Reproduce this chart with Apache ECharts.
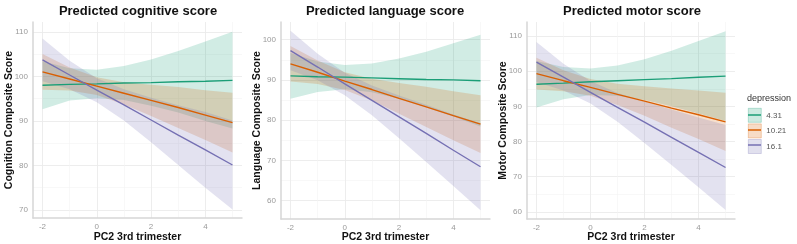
<!DOCTYPE html>
<html lang="en">
<head>
    <meta charset="UTF-8">
    <title>Predicted scores</title>
    <script src="https://cdn.jsdelivr.net/npm/echarts@6/dist/echarts.min.js"></script>
    <style>
        html, body { margin: 0; padding: 0; background: #fff; }
    </style>
</head>
<body>
<div id="main" style="width: 797px; height: 244px;"></div>
<script type="text/javascript">
    // x values (PC2 3rd trimester) at which the fits were read
    var xs = [-2, -1, 0, 1, 2, 3, 4, 5];
    var levels = ['4.31', '10.21', '16.1'];
    var colors = ['#1b9e77', '#d95f02', '#7570b3'];

    // cognitive: fitted line, lower and upper band, one row per depression level
    var cogFit = [
        [98.0, 98.2, 98.3, 98.5, 98.6, 98.8, 98.9, 99.1],
        [101.0, 99.4, 97.8, 96.2, 94.6, 93.0, 91.3, 89.6],
        [103.7, 100.3, 96.9, 93.6, 90.2, 86.8, 83.5, 80.1]
    ];
    var cogLow = [
        [92.6, 94.6, 95.1, 94.7, 93.4, 91.9, 90.0, 88.3],
        [97.0, 96.8, 95.8, 93.7, 91.1, 88.4, 85.7, 82.9],
        [98.9, 97.1, 94.2, 90.1, 85.2, 80.1, 75.0, 70.1]
    ];
    var cogHigh = [
        [103.4, 101.8, 101.5, 102.3, 103.8, 105.7, 107.8, 110.0],
        [105.0, 102.0, 99.8, 98.7, 98.1, 97.6, 96.9, 96.3],
        [108.5, 103.5, 99.6, 97.1, 95.2, 93.5, 92.0, 90.1]
    ];

    // language
    var langFit = [
        [91.0, 90.8, 90.7, 90.5, 90.3, 90.1, 90.0, 89.8],
        [94.0, 91.9, 89.7, 87.6, 85.4, 83.3, 81.1, 79.0],
        [97.3, 93.2, 89.0, 84.9, 80.8, 76.7, 72.5, 68.4]
    ];
    var langLow = [
        [85.3, 87.0, 87.7, 86.9, 85.3, 83.2, 80.9, 78.4],
        [89.6, 89.0, 87.5, 84.9, 81.6, 78.3, 75.0, 71.8],
        [92.4, 89.9, 86.2, 81.2, 75.5, 69.6, 63.6, 57.6]
    ];
    var langHigh = [
        [96.7, 94.6, 93.7, 94.1, 95.3, 97.0, 99.1, 101.2],
        [98.4, 94.8, 91.9, 90.3, 89.2, 88.3, 87.2, 86.2],
        [102.2, 96.5, 91.8, 88.6, 86.1, 83.8, 81.4, 79.2]
    ];

    // motor
    var motorFit = [
        [96.3, 96.6, 97.0, 97.3, 97.6, 97.9, 98.3, 98.6],
        [99.3, 97.3, 95.4, 93.4, 91.5, 89.5, 87.6, 85.6],
        [102.6, 98.3, 94.0, 89.7, 85.5, 81.2, 76.9, 72.6]
    ];
    var motorLow = [
        [89.7, 92.0, 93.2, 93.0, 91.8, 90.0, 88.0, 85.8],
        [94.8, 94.3, 93.0, 90.4, 87.3, 83.9, 80.7, 77.3],
        [96.9, 94.5, 90.8, 85.6, 79.6, 73.3, 67.0, 60.5]
    ];
    var motorHigh = [
        [102.9, 101.2, 100.8, 101.6, 103.4, 105.8, 108.6, 111.4],
        [103.8, 100.3, 97.8, 96.4, 95.7, 95.1, 94.5, 93.9],
        [108.3, 102.1, 97.2, 93.8, 91.4, 89.1, 86.8, 84.7]
    ];

    var panelTitles = ['Predicted cognitive score', 'Predicted language score', 'Predicted motor score'];
    var yNames = ['Cognition Composite Score', 'Language Composite Score', 'Motor Composite Score'];
    var xName = 'PC2 3rd trimester';
    var yMins = [68.2, 55.4, 57.95];
    var yMaxs = [112.2, 104.4, 114.0];
    var xMin = -2.35, xMax = 5.35;
    var minorX = [-1, 1, 3, 5];
    var minorY = [[75, 85, 95, 105], [65, 75, 85, 95], [65, 75, 85, 95, 105]];

    var fits = [cogFit, langFit, motorFit];
    var lows = [cogLow, langLow, motorLow];
    var highs = [cogHigh, langHigh, motorHigh];

    var gridLefts = [33, 281, 527];
    var gridWidths = [209, 209, 208];
    var titleCenters = [138, 385, 632];

    var FONT = '"Liberation Sans", Arial, sans-serif';

    function hexA(hex, a) {
        var r = parseInt(hex.substr(1, 2), 16), g = parseInt(hex.substr(3, 2), 16), b = parseInt(hex.substr(5, 2), 16);
        return 'rgba(' + r + ',' + g + ',' + b + ',' + a + ')';
    }

    var myChart = echarts.init(document.getElementById('main'), null, {renderer: 'canvas'});

    var grids = [], xAxes = [], yAxes = [], series = [], titles = [];

    for (var p = 0; p < 3; p++) {
        grids.push({left: gridLefts[p], top: 22, width: gridWidths[p], height: 196 + (p > 0 ? 1 : 0),
            containLabel: false, outerBoundsMode: 'none'});
        titles.push({
            text: panelTitles[p], left: titleCenters[p], top: 5, padding: 0, textAlign: 'center',
            backgroundColor: 'rgba(0,0,0,0)',
            textStyle: {fontFamily: FONT, fontSize: 13, fontWeight: 'bold', color: '#111'}
        });
        // x axis title as a text block under the panel
        titles.push({
            text: xName, left: gridLefts[p] + gridWidths[p] / 2, top: 232, padding: 0, textAlign: 'center',
            backgroundColor: 'rgba(0,0,0,0)', z: 0,
            textStyle: {fontFamily: FONT, fontSize: 10.5, fontWeight: 'bold', color: '#111'}
        });
        xAxes.push({
            type: 'value', gridIndex: p, min: xMin, max: xMax, z: 1,
            axisLine: {show: true, onZero: false, lineStyle: {color: '#d6d6d6', width: 1.5}},
            axisTick: {show: false},
            axisLabel: {
                fontFamily: FONT, fontSize: 8, color: '#9a9a9a', margin: 5,
                formatter: function (v) { return (Math.abs(v % 2) < 1e-9) ? String(v) : ''; }
            },
            splitLine: {show: true, showMinLine: false, showMaxLine: false, lineStyle: {color: '#ebebeb', width: 0.9}}
        });
        yAxes.push({
            type: 'value', gridIndex: p, min: yMins[p], max: yMaxs[p],
            name: yNames[p], nameLocation: 'middle', nameGap: 18, nameMoveOverlap: false,
            nameTextStyle: {fontFamily: FONT, fontSize: 10.5, fontWeight: 'bold', color: '#111'},
            axisLine: {show: true, onZero: false, lineStyle: {color: '#d6d6d6', width: 1.5}},
            axisTick: {show: false},
            axisLabel: {
                fontFamily: FONT, fontSize: 8, color: '#9a9a9a', margin: 5,
                formatter: function (v) { return (Math.abs(v % 10) < 1e-9) ? String(v) : ''; }
            },
            splitLine: {show: true, showMinLine: false, showMaxLine: false, lineStyle: {color: '#ebebeb', width: 0.9}}
        });

        // ribbons first
        for (var k = 0; k < 3; k++) {
            (function (p, k) {
                var lo = lows[p][k], hi = highs[p][k];
                series.push({
                    type: 'custom', name: levels[k], xAxisIndex: p, yAxisIndex: p, z: 2, silent: true,
                    data: xs.map(function (x, i) { return [x, lo[i], hi[i]]; }),
                    encode: {x: 0, y: [1, 2]},
                    renderItem: function (params, api) {
                        if (params.dataIndex !== 0) return;
                        var pts = [];
                        for (var i = 0; i < xs.length; i++) pts.push(api.coord([xs[i], hi[i]]));
                        for (var j = xs.length - 1; j >= 0; j--) pts.push(api.coord([xs[j], lo[j]]));
                        return {type: 'polygon', shape: {points: pts}, style: {fill: hexA(colors[k], 0.2)}};
                    }
                });
            })(p, k);
        }
        // fitted lines
        for (var k2 = 0; k2 < 3; k2++) {
            var s = {
                type: 'line', name: levels[k2], xAxisIndex: p, yAxisIndex: p, z: 3, silent: true,
                data: xs.map(function (x, i) { return [x, fits[p][k2][i]]; }),
                showSymbol: false, symbol: 'none',
                lineStyle: {color: colors[k2], width: 1.4},
                itemStyle: {color: colors[k2]}
            };
            if (k2 === 0) {
                // minor grid lines
                var ml = minorX.map(function (v) { return {xAxis: v}; })
                    .concat(minorY[p].map(function (v) { return {yAxis: v}; }));
                s.markLine = {
                    silent: true, symbol: 'none', z: 0, animation: false,
                    label: {show: false},
                    lineStyle: {color: '#f3f3f3', width: 0.6, type: 'solid'},
                    data: ml
                };
            }
            series.push(s);
        }
    }

    titles.push({
        text: 'depression', left: 747, top: 94, padding: 0,
        textStyle: {fontFamily: FONT, fontSize: 9, fontWeight: 'normal', color: '#333'}
    });

    var boxIcon = 'path://M0,0H13V14H0Z';
    var lineIcon = 'path://M0,0H13V0.01H0Z M0,6.3H13V7.7H0Z M0,13.99H13V14H0Z';

    var option = {
        animation: false,
        backgroundColor: '#ffffff',
        title: titles,
        grid: grids,
        xAxis: xAxes,
        yAxis: yAxes,
        legend: [
            {
                orient: 'vertical', left: 748, top: 108, padding: 0,
                itemWidth: 13, itemHeight: 14, itemGap: 1,
                selectedMode: false,
                textStyle: {fontFamily: FONT, fontSize: 8, color: '#555'},
                data: levels.map(function (n, k) {
                    return {name: n, icon: boxIcon,
                        itemStyle: {color: hexA(colors[k], 0.22), borderColor: hexA(colors[k], 0.45), borderWidth: 0.6}};
                })
            },
            {
                orient: 'vertical', left: 748, top: 108, padding: 0,
                itemWidth: 13, itemHeight: 14, itemGap: 1,
                selectedMode: false,
                formatter: function () { return ''; },
                textStyle: {fontSize: 8},
                data: levels.map(function (n, k) {
                    return {name: n, icon: lineIcon, itemStyle: {color: colors[k], borderWidth: 0}};
                })
            }
        ],
        series: series
    };

    myChart.setOption(option);
</script>
</body>
</html>
